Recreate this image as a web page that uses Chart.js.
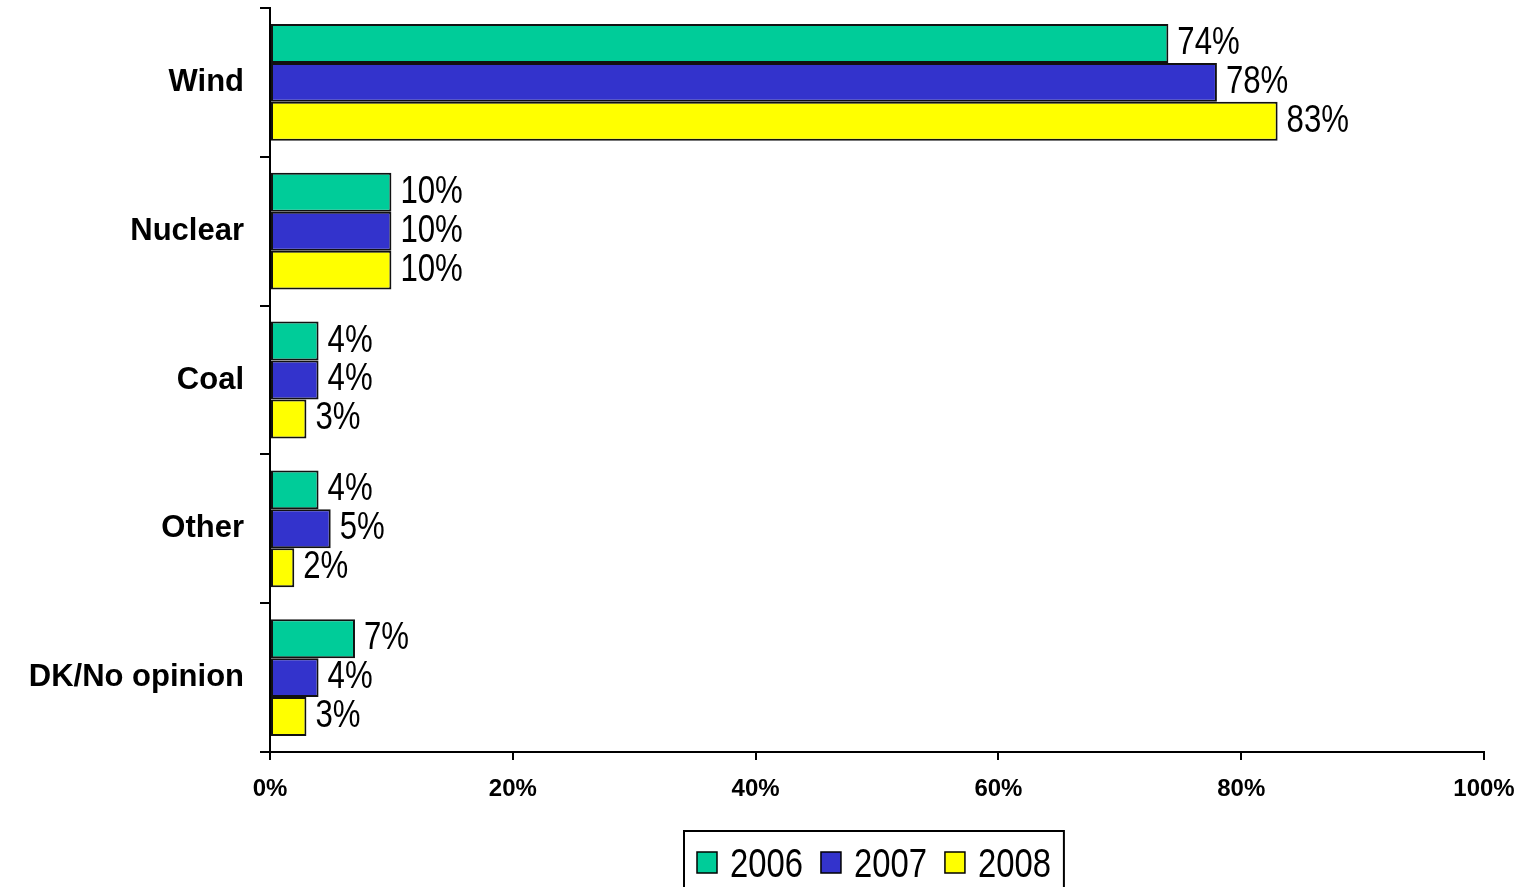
<!DOCTYPE html>
<html>
<head>
<meta charset="utf-8">
<script src="https://cdn.jsdelivr.net/npm/chart.js@4"></script>
<style>
  html, body { margin: 0; padding: 0; background: #fff; }
  #wrap { width: 1522px; height: 887px; position: relative; }
</style>
</head>
<body>
<div id="wrap"><canvas id="energyChart"></canvas></div>
<script>
// Data
const categories = ["Wind", "Nuclear", "Coal", "Other", "DK/No opinion"]
const years = ["2006", "2007", "2008"]
const values2006 = [74, 10, 4, 4, 7]
const values2007 = [78, 10, 4, 5, 4]
const values2008 = [83, 10, 3, 2, 3]
const xTicks = [0, 20, 40, 60, 80, 100]

const colors = ["#00CC99", "#3333CC", "#FFFF00"]
const sansFont = "'Liberation Sans', Arial, sans-serif"
const squeeze = 0.82 // horizontal squeeze for the narrow label font

// draw text condensed horizontally, left aligned at x
function narrowText(ctx, text, x, y) {
  ctx.save()
  ctx.translate(x, y)
  ctx.scale(squeeze, 1)
  ctx.fillText(text, 0, 0)
  ctx.restore()
}

// Value labels to the right of each bar
const valueLabels = {
  id: "valueLabels",
  afterDatasetsDraw(chart) {
    const ctx = chart.ctx
    ctx.save()
    ctx.font = "38px " + sansFont
    ctx.fillStyle = "#000"
    ctx.textAlign = "left"
    ctx.textBaseline = "middle"
    chart.data.datasets.forEach((ds, i) => {
      chart.getDatasetMeta(i).data.forEach((bar, j) => {
        narrowText(ctx, ds.data[j] + "%", bar.x + 9, bar.y)
      })
    })
    ctx.restore()
  },
}

// Boxed legend under the plot
const boxLegend = {
  id: "boxLegend",
  afterDraw(chart) {
    const ctx = chart.ctx
    const area = chart.chartArea
    ctx.save()
    ctx.font = "40px " + sansFont
    const sw = 20, gapText = 13, gapItem = 18, pad = 13
    const widths = chart.data.datasets.map((ds) => ctx.measureText(ds.label).width * squeeze)
    let total = pad * 2
    widths.forEach((w, i) => {
      total += sw + gapText + w
      if (i < widths.length - 1) total += gapItem
    })
    const left = Math.round((area.left + area.right) / 2 - total / 2) - 3
    const top = 831
    ctx.strokeStyle = "#000"
    ctx.lineWidth = 2
    ctx.strokeRect(left, top, total, 80)
    let x = left + pad
    ctx.textBaseline = "alphabetic"
    ctx.textAlign = "left"
    chart.data.datasets.forEach((ds, i) => {
      ctx.fillStyle = ds.backgroundColor
      ctx.fillRect(x, 852, sw, 21)
      ctx.lineWidth = 1.5
      ctx.strokeRect(x, 852, sw, 21)
      x += sw + gapText
      ctx.fillStyle = "#000"
      narrowText(ctx, ds.label, x, 877)
      x += widths[i] + gapItem
    })
    ctx.restore()
  },
}

const seriesValues = [values2006, values2007, values2008]

new Chart(document.getElementById("energyChart"), {
  type: "bar",
  data: {
    labels: categories,
    datasets: years.map((y, i) => ({
      label: y,
      data: seriesValues[i],
      backgroundColor: colors[i],
      borderColor: "#111",
      borderWidth: 2,
      borderSkipped: false,
      categoryPercentage: 0.785,
      barPercentage: 1,
    })),
  },
  options: {
    indexAxis: "y",
    responsive: true,
    maintainAspectRatio: false,
    animation: false,
    layout: { padding: { top: 8, right: 38, left: 0, bottom: 0 } },
    plugins: {
      legend: { display: false },
      tooltip: { enabled: false },
    },
    scales: {
      x: {
        min: 0,
        max: 100,
        afterBuildTicks: (scale) => {
          scale.ticks = xTicks.map((v) => ({ value: v }))
        },
        afterFit: (scale) => {
          scale.height = 135
          scale.paddingLeft = 0
          scale.paddingRight = 0
        },
        border: { color: "#000", width: 2 },
        grid: { drawOnChartArea: false, color: "#000", lineWidth: 2, tickLength: 8 },
        ticks: {
          color: "#000",
          padding: 15,
          font: { family: sansFont, size: 24, weight: "bold" },
          callback: (v) => v + "%",
        },
      },
      y: {
        afterFit: (scale) => {
          scale.width = 270
          scale.paddingTop = 0
          scale.paddingBottom = 0
        },
        border: { color: "#000", width: 2 },
        grid: { drawOnChartArea: false, color: "#000", lineWidth: 2, tickLength: 10, offset: true },
        ticks: {
          color: "#000",
          padding: 16,
          font: { family: sansFont, size: 31, weight: "bold" },
        },
      },
    },
  },
  plugins: [valueLabels, boxLegend],
})
</script>
</body>
</html>
